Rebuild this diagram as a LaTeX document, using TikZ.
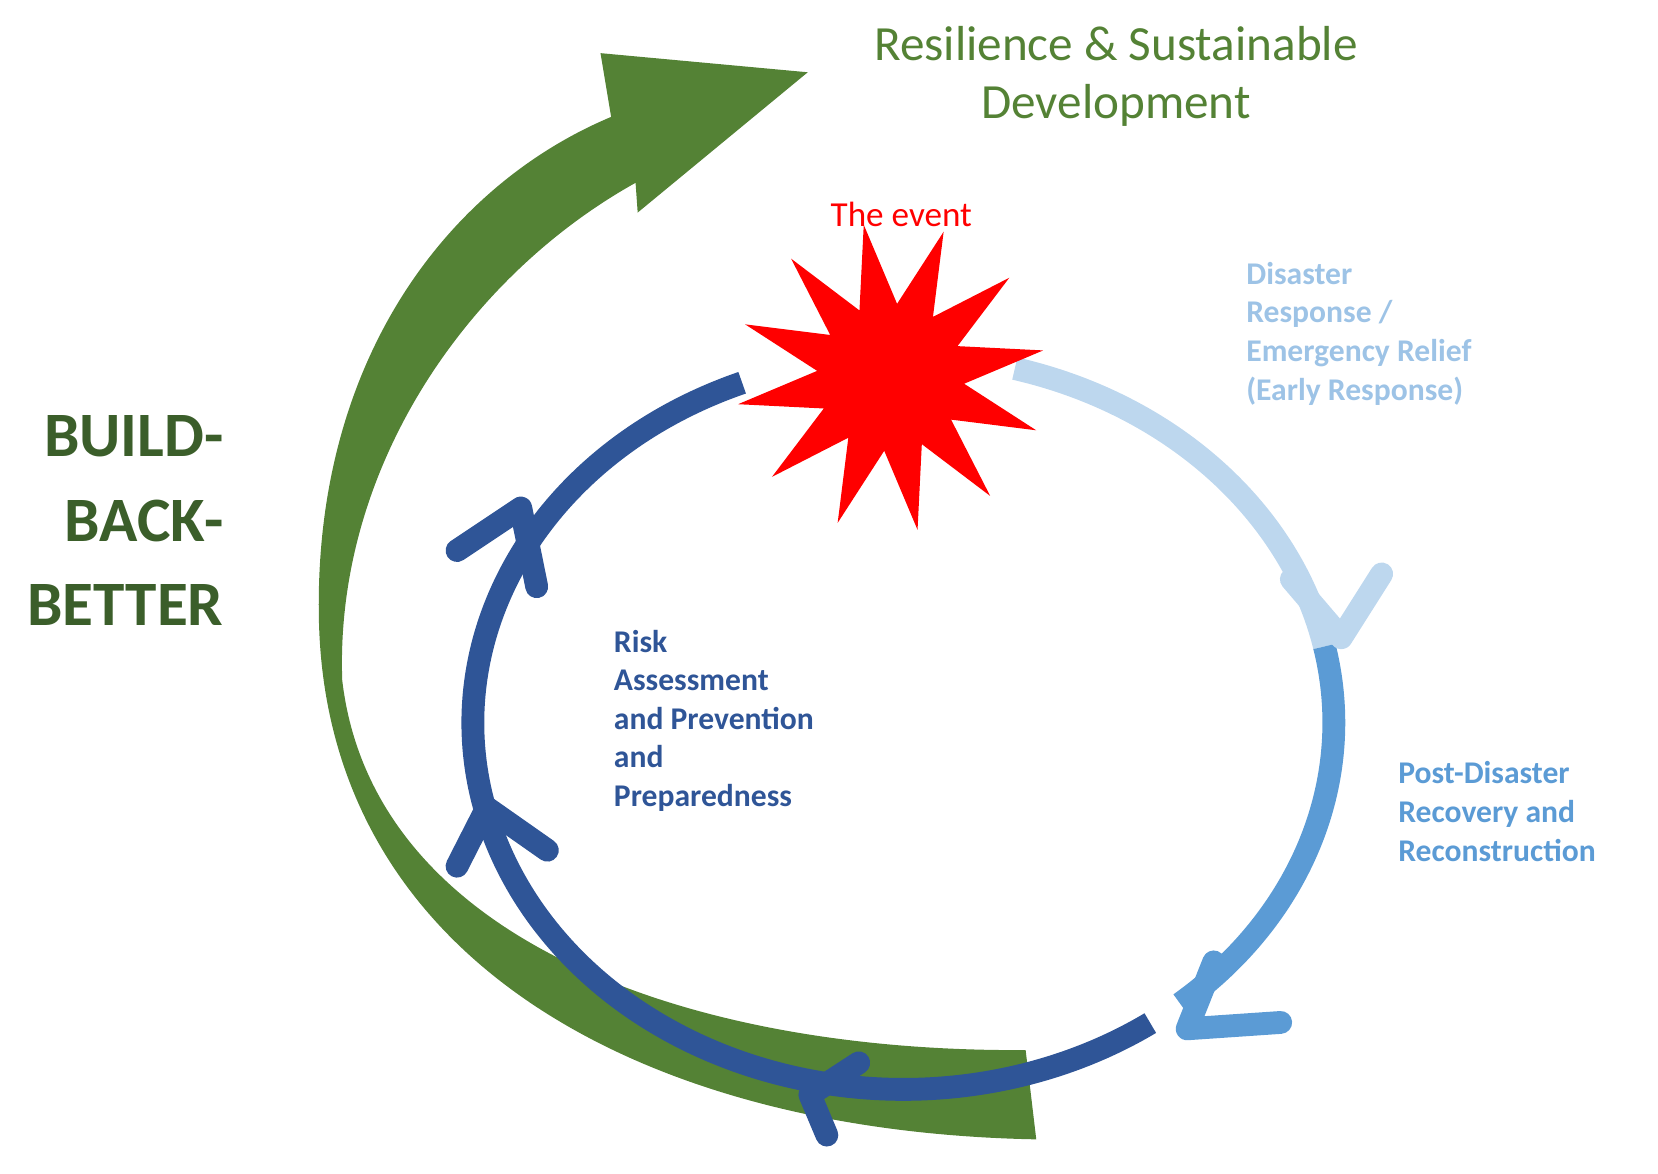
\documentclass[tikz,border=0pt]{standalone}
\usepackage{fontspec}
\setmainfont{Carlito}
\usetikzlibrary{shapes.geometric}
\definecolor{dblue}{HTML}{2F5597}
\definecolor{mblue}{HTML}{5B9BD5}
\definecolor{lblue}{HTML}{BDD7EE}
\definecolor{lbluet}{HTML}{9DC3E6}
\definecolor{grn}{HTML}{548235}
\definecolor{dgrn}{HTML}{3B5E2A}
\begin{document}
\begin{tikzpicture}[x=0.01063cm,y=-0.01063cm,
 ring/.style={line width=6.5pt},
 chev/.style={line width=6.5pt,line cap=round,line join=round},
 lab/.style={font=\fontsize{9}{11}\selectfont\bfseries,align=left,anchor=north west,inner sep=0pt}]
\useasboundingbox (0,0) rectangle (1560,1104);
% green arrow
\fill[grn] (975,1072) .. controls (600,1065) and (305,900) .. (300,580)
  .. controls (296,340) and (420,175) .. (575,110) -- (565,50) -- (760,68) -- (600,200) -- (598,172)
  .. controls (440,260) and (315,440) .. (322,640)
  .. controls (350,880) and (640,990) .. (965,988) -- cycle;
% rings
\draw[ring,dblue] (850,680) ++(248:405 and 345) arc (248:55:405 and 345) coordinate (db);
\draw[ring,lblue] (850,680) ++(-75:405 and 345) arc (-75:-12:405 and 345) coordinate (lb);
\draw[ring,mblue] (lb) arc (-12:50:405 and 345) coordinate (mb);
% chevrons
\draw[chev,lblue] (1215,545)--(1262,600)--(1300,540);
\draw[chev,mblue] (1142,905)--(1117,968)--(1205,962);
\draw[chev,dblue] (430,518)--(490,478)--(505,552);
\draw[chev,dblue] (430,815)--(458,760)--(515,800);
\draw[chev,dblue] (808,1000)--(762,1030)--(778,1068);
% starburst
\node[star,star points=12,star point ratio=2.1,fill=red,minimum size=3.1cm,inner sep=0pt,rotate=10] (ev) at (838,355) {};
% texts
\node[text=red,font=\fontsize{10}{12}\selectfont] (t1) at (848,202) {The event};
\node[text=grn,font=\fontsize{14}{16.5}\selectfont,align=center] (t2) at (1050,72) {Resilience \& Sustainable\\Development};
\node[text=dgrn,font=\fontsize{18}{24}\selectfont\bfseries,align=right,anchor=east] (t3) at (222,490) {BUILD-\\BACK-\\BETTER};
\node[lab,text=lbluet] (t4) at (1172,246) {Disaster\\Response /\\Emergency Relief\\(Early Response)};
\node[lab,text=mblue] (t5) at (1315,716) {Post-Disaster\\Recovery and\\Reconstruction};
\node[lab,text=dblue] (t6) at (577,592) {Risk\\Assessment\\and Prevention\\and\\Preparedness};
\end{tikzpicture}
\end{document}
